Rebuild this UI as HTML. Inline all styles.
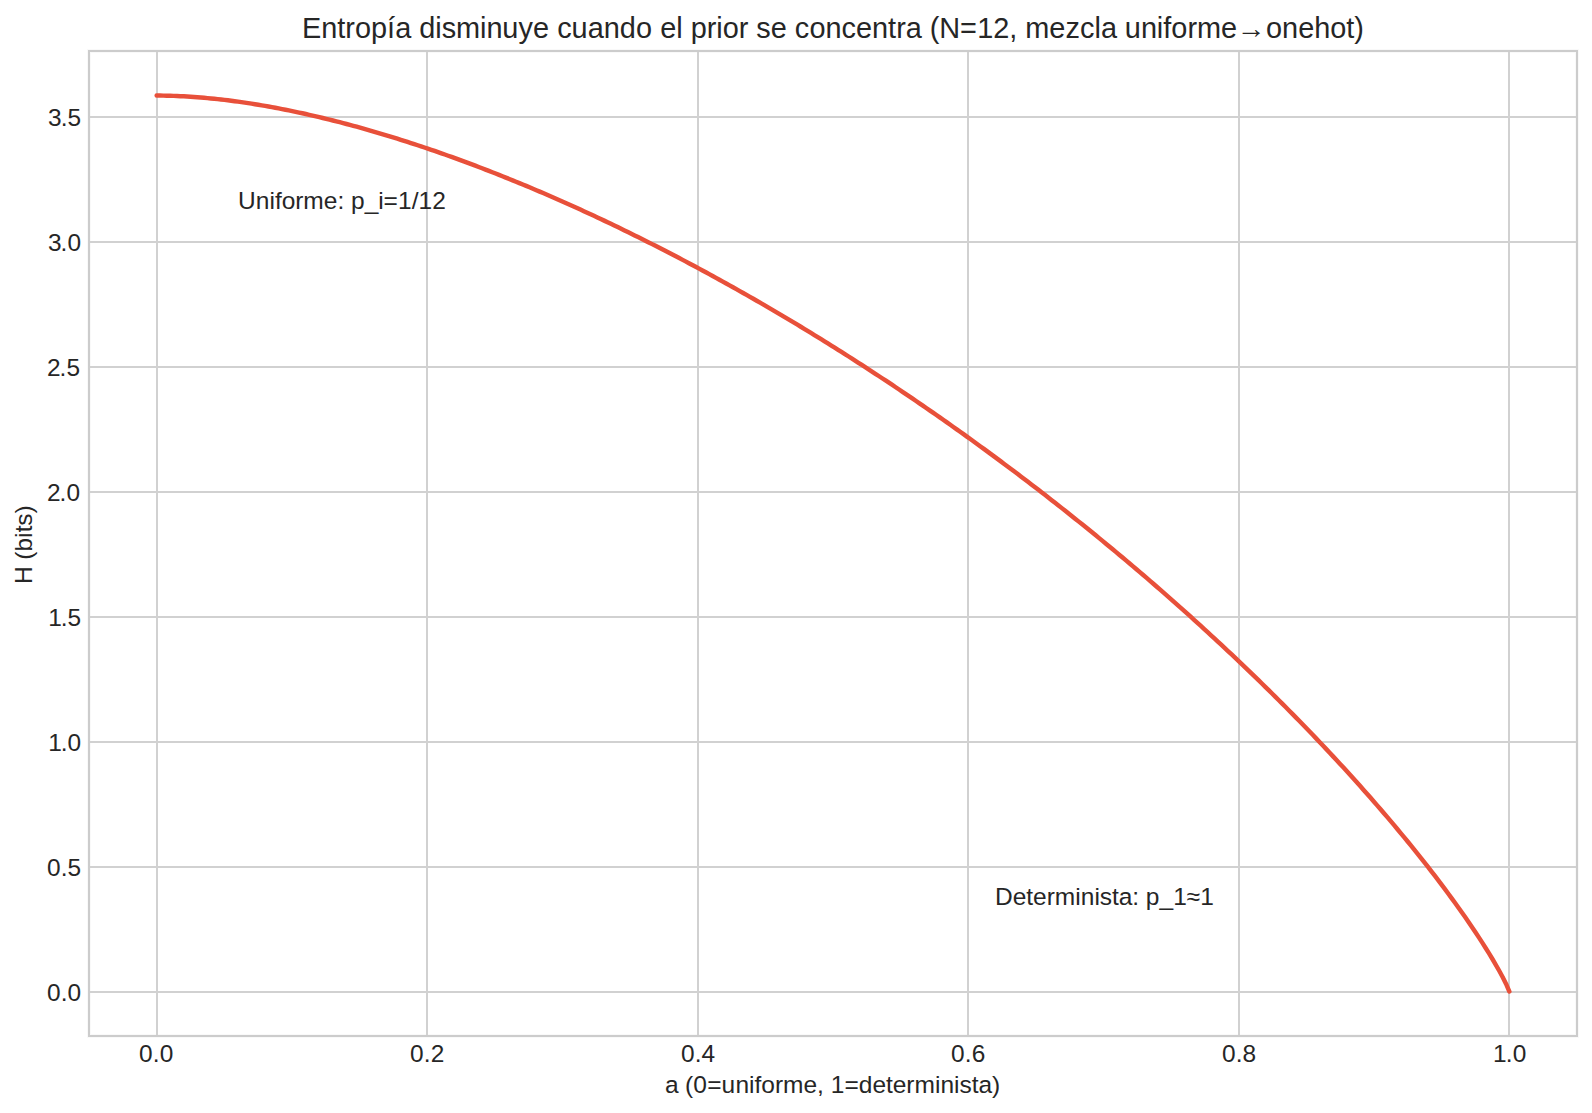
<!DOCTYPE html>
<html lang="es">
<head>
<meta charset="utf-8">
<title>Entropía disminuye cuando el prior se concentra</title>
<style>
html,body{margin:0;padding:0;background:#fff;}
body{width:1592px;height:1113px;overflow:hidden;}
svg{display:block;}
text{font-family:"Liberation Sans","DejaVu Sans",sans-serif;fill:#262626;white-space:pre;}
.tk{font-size:24.45px;}
.lab{font-size:24.5px;}
.ttl{font-size:28.89px;}
.ann{font-size:24.5px;}
.grid line{stroke:#d1d1d1;stroke-width:2;}
</style>
</head>
<body>
<svg width="1592" height="1113" viewBox="0 0 1592 1113">
<rect x="0" y="0" width="1592" height="1113" fill="#ffffff"/>
<rect x="89" y="51" width="1488" height="985" fill="none" stroke="#f9f9f9" stroke-width="4"/>
<g class="grid">
<line x1="157" y1="51" x2="157" y2="1036"/>
<line x1="427" y1="51" x2="427" y2="1036"/>
<line x1="698" y1="51" x2="698" y2="1036"/>
<line x1="968" y1="51" x2="968" y2="1036"/>
<line x1="1239" y1="51" x2="1239" y2="1036"/>
<line x1="1509" y1="51" x2="1509" y2="1036"/>
<line x1="89" y1="992" x2="1577" y2="992"/>
<line x1="89" y1="867" x2="1577" y2="867"/>
<line x1="89" y1="742" x2="1577" y2="742"/>
<line x1="89" y1="617" x2="1577" y2="617"/>
<line x1="89" y1="492" x2="1577" y2="492"/>
<line x1="89" y1="367" x2="1577" y2="367"/>
<line x1="89" y1="242" x2="1577" y2="242"/>
<line x1="89" y1="117" x2="1577" y2="117"/>
</g>
<polyline fill="none" stroke="#e8503a" stroke-width="4.44" stroke-linecap="round" stroke-linejoin="round" points="156.64,95.58 160.03,95.59 163.42,95.63 166.81,95.69 170.20,95.77 173.59,95.88 176.98,96.01 180.37,96.16 183.76,96.33 187.15,96.52 190.54,96.73 193.93,96.97 197.32,97.22 200.71,97.49 204.10,97.78 207.49,98.09 210.88,98.42 214.28,98.76 217.67,99.13 221.06,99.51 224.45,99.91 227.84,100.32 231.23,100.75 234.62,101.20 238.01,101.66 241.40,102.14 244.79,102.64 248.18,103.15 251.57,103.68 254.96,104.22 258.35,104.78 261.74,105.35 265.13,105.93 268.52,106.53 271.91,107.15 275.30,107.78 278.69,108.42 282.08,109.08 285.47,109.75 288.86,110.43 292.25,111.13 295.64,111.83 299.03,112.56 302.42,113.29 305.81,114.04 309.20,114.80 312.59,115.58 315.98,116.36 319.37,117.16 322.76,117.97 326.16,118.79 329.55,119.63 332.94,120.48 336.33,121.33 339.72,122.20 343.11,123.09 346.50,123.98 349.89,124.88 353.28,125.80 356.67,126.73 360.06,127.66 363.45,128.61 366.84,129.57 370.23,130.54 373.62,131.53 377.01,132.52 380.40,133.52 383.79,134.53 387.18,135.56 390.57,136.59 393.96,137.64 397.35,138.69 400.74,139.76 404.13,140.84 407.52,141.92 410.91,143.02 414.30,144.12 417.69,145.24 421.08,146.37 424.47,147.50 427.86,148.65 431.25,149.80 434.64,150.97 438.03,152.14 441.43,153.33 444.82,154.52 448.21,155.72 451.60,156.93 454.99,158.16 458.38,159.39 461.77,160.63 465.16,161.88 468.55,163.14 471.94,164.40 475.33,165.68 478.72,166.97 482.11,168.26 485.50,169.57 488.89,170.88 492.28,172.20 495.67,173.53 499.06,174.87 502.45,176.22 505.84,177.58 509.23,178.95 512.62,180.32 516.01,181.70 519.40,183.10 522.79,184.50 526.18,185.91 529.57,187.32 532.96,188.75 536.35,190.19 539.74,191.63 543.13,193.08 546.52,194.54 549.91,196.01 553.31,197.49 556.70,198.97 560.09,200.47 563.48,201.97 566.87,203.48 570.26,205.00 573.65,206.53 577.04,208.06 580.43,209.60 583.82,211.16 587.21,212.71 590.60,214.28 593.99,215.86 597.38,217.44 600.77,219.03 604.16,220.63 607.55,222.24 610.94,223.86 614.33,225.48 617.72,227.11 621.11,228.75 624.50,230.40 627.89,232.06 631.28,233.72 634.67,235.39 638.06,237.07 641.45,238.76 644.84,240.45 648.23,242.16 651.62,243.87 655.01,245.59 658.40,247.31 661.79,249.05 665.19,250.79 668.58,252.54 671.97,254.30 675.36,256.06 678.75,257.84 682.14,259.62 685.53,261.40 688.92,263.20 692.31,265.00 695.70,266.82 699.09,268.64 702.48,270.46 705.87,272.30 709.26,274.14 712.65,275.99 716.04,277.85 719.43,279.71 722.82,281.59 726.21,283.47 729.60,285.36 732.99,287.25 736.38,289.16 739.77,291.07 743.16,292.99 746.55,294.91 749.94,296.85 753.33,298.79 756.72,300.74 760.11,302.69 763.50,304.66 766.89,306.63 770.28,308.61 773.67,310.60 777.07,312.59 780.46,314.60 783.85,316.61 787.24,318.62 790.63,320.65 794.02,322.68 797.41,324.72 800.80,326.77 804.19,328.83 807.58,330.89 810.97,332.96 814.36,335.04 817.75,337.13 821.14,339.22 824.53,341.32 827.92,343.43 831.31,345.55 834.70,347.67 838.09,349.81 841.48,351.95 844.87,354.09 848.26,356.25 851.65,358.41 855.04,360.58 858.43,362.76 861.82,364.95 865.21,367.14 868.60,369.35 871.99,371.55 875.38,373.77 878.77,376.00 882.16,378.23 885.55,380.47 888.94,382.72 892.34,384.97 895.73,387.24 899.12,389.51 902.51,391.79 905.90,394.08 909.29,396.37 912.68,398.68 916.07,400.99 919.46,403.31 922.85,405.63 926.24,407.97 929.63,410.31 933.02,412.66 936.41,415.02 939.80,417.39 943.19,419.76 946.58,422.15 949.97,424.54 953.36,426.94 956.75,429.35 960.14,431.76 963.53,434.18 966.92,436.62 970.31,439.06 973.70,441.50 977.09,443.96 980.48,446.43 983.87,448.90 987.26,451.38 990.65,453.87 994.04,456.37 997.43,458.87 1000.82,461.39 1004.22,463.91 1007.61,466.44 1011.00,468.98 1014.39,471.53 1017.78,474.09 1021.17,476.65 1024.56,479.23 1027.95,481.81 1031.34,484.40 1034.73,487.00 1038.12,489.61 1041.51,492.23 1044.90,494.86 1048.29,497.49 1051.68,500.13 1055.07,502.79 1058.46,505.45 1061.85,508.12 1065.24,510.80 1068.63,513.49 1072.02,516.19 1075.41,518.90 1078.80,521.61 1082.19,524.34 1085.58,527.07 1088.97,529.82 1092.36,532.57 1095.75,535.33 1099.14,538.10 1102.53,540.89 1105.92,543.68 1109.31,546.48 1112.70,549.29 1116.10,552.11 1119.49,554.94 1122.88,557.78 1126.27,560.63 1129.66,563.49 1133.05,566.36 1136.44,569.24 1139.83,572.13 1143.22,575.03 1146.61,577.94 1150.00,580.86 1153.39,583.79 1156.78,586.73 1160.17,589.68 1163.56,592.64 1166.95,595.61 1170.34,598.60 1173.73,601.59 1177.12,604.60 1180.51,607.61 1183.90,610.64 1187.29,613.68 1190.68,616.72 1194.07,619.78 1197.46,622.86 1200.85,625.94 1204.24,629.03 1207.63,632.14 1211.02,635.26 1214.41,638.39 1217.80,641.53 1221.19,644.68 1224.58,647.85 1227.98,651.02 1231.37,654.21 1234.76,657.42 1238.15,660.63 1241.54,663.86 1244.93,667.10 1248.32,670.35 1251.71,673.62 1255.10,676.90 1258.49,680.19 1261.88,683.50 1265.27,686.82 1268.66,690.15 1272.05,693.50 1275.44,696.86 1278.83,700.24 1282.22,703.63 1285.61,707.04 1289.00,710.46 1292.39,713.89 1295.78,717.34 1299.17,720.81 1302.56,724.29 1305.95,727.79 1309.34,731.30 1312.73,734.83 1316.12,738.37 1319.51,741.94 1322.90,745.52 1326.29,749.11 1329.68,752.73 1333.07,756.36 1336.46,760.01 1339.85,763.68 1343.25,767.37 1346.64,771.07 1350.03,774.80 1353.42,778.54 1356.81,782.31 1360.20,786.10 1363.59,789.90 1366.98,793.73 1370.37,797.58 1373.76,801.45 1377.15,805.35 1380.54,809.27 1383.93,813.21 1387.32,817.18 1390.71,821.17 1394.10,825.19 1397.49,829.23 1400.88,833.30 1404.27,837.40 1407.66,841.53 1411.05,845.69 1414.44,849.88 1417.83,854.10 1421.22,858.35 1424.61,862.64 1428.00,866.96 1431.39,871.32 1434.78,875.72 1438.17,880.15 1441.56,884.63 1444.95,889.15 1448.34,893.72 1451.73,898.33 1455.13,903.00 1458.52,907.72 1461.91,912.49 1465.30,917.33 1468.69,922.23 1472.08,927.21 1475.47,932.26 1478.86,937.40 1482.25,942.63 1485.64,947.96 1489.03,953.42 1492.42,959.02 1495.81,964.79 1499.20,970.76 1502.59,977.03 1505.98,983.72 1509.37,991.57"/>
<rect x="89" y="51" width="1488" height="985" fill="none" stroke="#cccccc" stroke-width="2"/>
<g>
<text id="xt0" class="tk" x="139.06 152.74 159.63" y="1062.00">0.0</text>
<text id="xt1" class="tk" x="410.06 423.74 430.63" y="1062.00">0.2</text>
<text id="xt2" class="tk" x="681.06 694.74 701.53" y="1062.00">0.4</text>
<text id="xt3" class="tk" x="951.06 964.74 971.63" y="1062.00">0.6</text>
<text id="xt4" class="tk" x="1222.06 1235.64 1242.48" y="1062.00">0.8</text>
<text id="xt5" class="tk" x="1493.11 1505.74 1512.63" y="1062.00">1.0</text>
<text id="yt0" class="tk" x="47.12 60.64 67.49" y="1000.95">0.0</text>
<text id="yt1" class="tk" x="47.12 60.64 67.39" y="875.95">0.5</text>
<text id="yt2" class="tk" x="48.22 60.69 67.49" y="750.95">1.0</text>
<text id="yt3" class="tk" x="48.22 60.79 67.39" y="625.95">1.5</text>
<text id="yt4" class="tk" x="47.12 59.59 66.54" y="500.95">2.0</text>
<text id="yt5" class="tk" x="47.12 59.59 66.44" y="375.95">2.5</text>
<text id="yt6" class="tk" x="48.12 60.59 67.54" y="250.95">3.0</text>
<text id="yt7" class="tk" x="48.12 60.79 67.44" y="125.95">3.5</text>
<text id="ttl" class="ttl" x="302.04 321.29 337.20 345.17 355.09 371.09 387.10 395.13 410.98 419.31 435.18 441.73 456.12 480.08 486.39 502.35 518.51 532.95 549.00 557.13 571.62 587.73 603.78 619.64 636.00 651.76 660.18 676.14 682.26 690.63 706.74 716.25 722.72 738.77 748.04 756.36 770.75 786.56 794.84 809.38 825.53 841.39 856.08 872.09 888.10 896.22 905.68 921.39 929.67 939.33 960.04 977.15 993.21 1009.26 1016.89 1025.15 1049.27 1065.41 1079.90 1094.44 1100.91 1116.37 1124.84 1140.90 1156.86 1163.27 1171.25 1187.50 1197.12 1220.92 1236.83 1266.06 1282.12 1298.23 1314.18 1330.24 1346.15 1354.37" y="38.00">Entropía disminuye cuando el prior se concentra (N=12, mezcla uniforme→onehot)</text>
<text id="xl" class="lab" x="664.90 678.72 685.12 693.33 707.30 721.57 735.39 749.07 754.47 761.37 774.94 783.00 803.42 816.94 823.74 830.65 844.43 858.79 872.42 885.89 892.69 906.26 914.48 934.94 940.38 954.00 959.59 971.74 978.40 992.03" y="1093.00">a (0=uniforme, 1=determinista)</text>
<text id="yl" class="lab" transform="translate(31.5,544.7) rotate(-90)" x="-39.38 -21.79 -15.13 -6.82 6.70 12.34 18.95 31.30" y="0.00">H (bits)</text>
<text id="a1" class="ann" x="238.12 255.71 269.43 274.92 281.68 295.21 303.36 323.77 337.39 344.31 351.12 364.84 378.37 383.56 398.02 411.74 418.54 432.17" y="208.90">Uniforme: p_i=1/12</text>
<text id="a2" class="ann" x="995.04 1012.63 1026.30 1032.96 1046.64 1054.85 1075.30 1080.69 1094.41 1099.77 1112.02 1118.71 1132.14 1139.55 1145.81 1159.44 1173.16 1186.49 1200.28" y="905.10">Determinista: p_1≈1</text>
</g>
</svg>
</body>
</html>
